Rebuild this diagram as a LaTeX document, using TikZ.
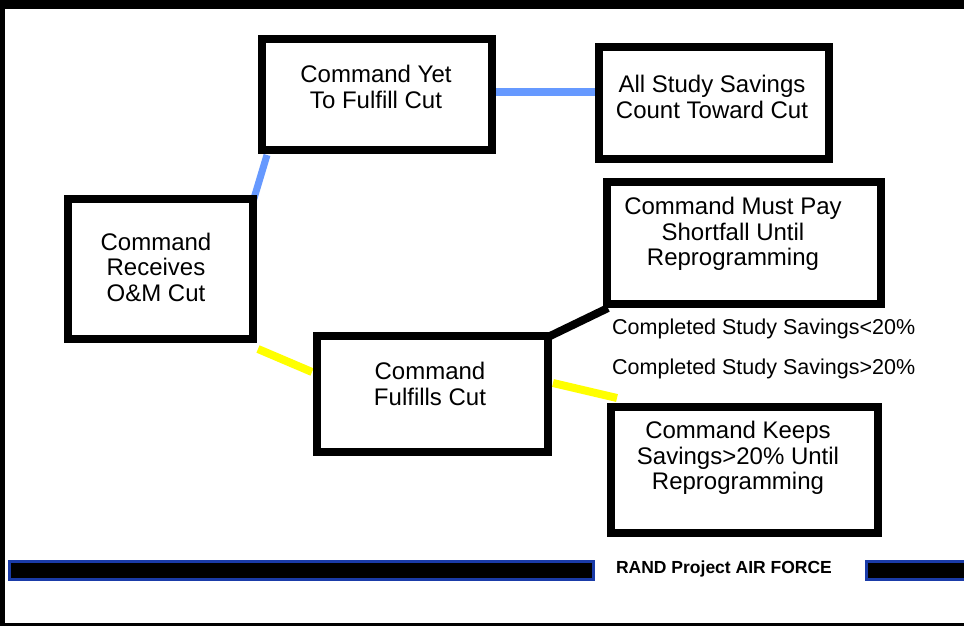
\documentclass[tikz,border=0pt]{standalone}
\usepackage{fontspec}
\setmainfont{Liberation Sans}
\usetikzlibrary{calc}
\definecolor{lineblue}{HTML}{6699FF}
\definecolor{lineyellow}{HTML}{FFFF00}
\definecolor{barblue}{HTML}{1A3BA8}
\pgfdeclarelayer{bg}
\pgfsetlayers{bg,main}
\tikzset{
  box/.style={draw=black, line width=8pt, fill=white, inner sep=0pt, outer sep=4pt},
  boxtext/.style={align=center, inner sep=0pt, font=\fontsize{24}{25.5}\selectfont},
  labeltext/.style={anchor=west, inner sep=0pt, font=\fontsize{21.5}{24}\selectfont},
  blueconn/.style={draw=lineblue, line width=7pt},
  yellowconn/.style={draw=lineyellow, line width=8pt},
  blackconn/.style={draw=black, line width=8pt},
}
\begin{document}
\begin{tikzpicture}[x=1pt,y=-1pt]
\useasboundingbox (0,0) rectangle (964,626);
% frame
\fill[black] (0,0) rectangle (964,9);
\fill[black] (0,0) rectangle (5,626);
\fill[black] (0,623) rectangle (964,626);
% boxes
\node[box, minimum width=230pt, minimum height=111pt] (A) at (377,94.5) {};
\node[box, minimum width=230pt, minimum height=112pt] (B) at (714,103) {};
\node[box, minimum width=185pt, minimum height=140pt] (C) at (160.5,269) {};
\node[box, minimum width=274pt, minimum height=122pt] (D) at (744,243) {};
\node[box, minimum width=231pt, minimum height=116pt] (E) at (432.5,394) {};
\node[box, minimum width=267pt, minimum height=126pt] (F) at (744.5,470) {};
% texts
\node[boxtext] (tA) at (376,87) {Command Yet\\To Fulfill Cut};
\node[boxtext] (tB) at (712,97) {All Study Savings\\Count Toward Cut};
\node[boxtext] (tC) at (156,267) {Command\\Receives\\O\&M Cut};
\node[boxtext] (tD) at (733,234) {Command Must Pay\\Shortfall Until\\Reprogramming};
\node[boxtext] (tE) at (430,384) {Command\\Fulfills Cut};
\node[boxtext] (tF) at (738,458) {Command Keeps\\Savings>20\% Until\\Reprogramming};
\node[labeltext] (l1) at (612,329) {Completed Study Savings<20\%};
\node[labeltext] (l2) at (612,369) {Completed Study Savings>20\%};
% connectors
\begin{pgfonlayer}{bg}
\fill[white] (5,9) rectangle (964,623);
\draw[blueconn] ($(A.east)+(-2,-2.5)$) -- ($(B.west)+(2,-11)$);
\draw[blueconn] ($(C.north east)+(-5,10)$) -- ($(A.south west)+(9,1)$);
\draw[yellowconn] ($(C.south east)+(1,6)$) -- ($(E.north west)+(-1,40)$);
\draw[blackconn] ($(E.north east)+(-4,5)$) -- ($(D.south west)+(5,0)$);
\draw[yellowconn] ($(E.east)+(1,-11)$) -- ($(F.north west)+(10,-5)$);
\end{pgfonlayer}
% footer bar
\fill[barblue] (8,560) rectangle (595,581);
\fill[black] (11,563) rectangle (592,578);
\fill[barblue] (865,560) rectangle (964,581);
\fill[black] (868,563) rectangle (964,578);
\node[font=\bfseries\fontsize{17.5}{19}\selectfont, inner sep=0pt] (rand) at (724,569) {RAND Project AIR FORCE};
\end{tikzpicture}
\end{document}
